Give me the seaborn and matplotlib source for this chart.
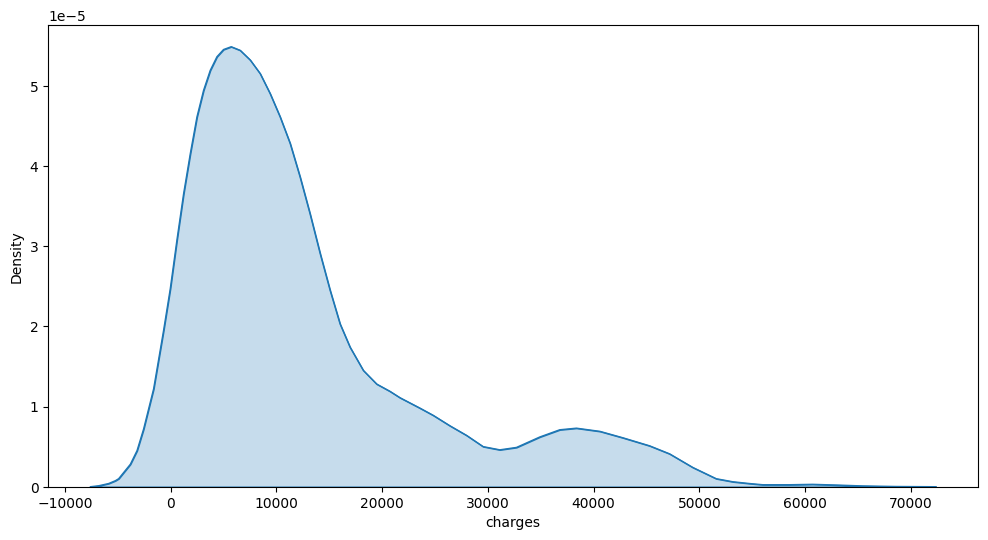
import matplotlib
matplotlib.use("Agg")
import matplotlib.pyplot as plt
import seaborn as sns
import pandas as pd

# KDE curve of insurance charges
charges = [-7580, -6799, -5855, -5222, -4910, -3806, -3173, -2550, -1605, -661,
           -28, 604, 1228, 1860, 2493, 3116, 3749, 4382, 5005, 5732,
           6582, 7526, 8470, 9415, 10359, 11303, 12247, 13191, 14136, 15080,
           16024, 16969, 18225, 19490, 20737, 21690, 23580, 24835, 26412, 27989,
           29557, 31134, 32711, 34911, 36800, 38377, 40608, 42777, 45297, 47186,
           49387, 50652, 51597, 53165, 54742, 55997, 58520, 60718, 63240, 65440,
           68594, 72370]
density_e5 = [0.0, 0.012, 0.04, 0.075, 0.10, 0.28, 0.45, 0.72, 1.22, 1.95,
              2.47, 3.08, 3.65, 4.15, 4.61, 4.94, 5.19, 5.36, 5.45, 5.485,
              5.44, 5.32, 5.15, 4.90, 4.61, 4.28, 3.86, 3.40, 2.91, 2.45,
              2.03, 1.74, 1.45, 1.28, 1.19, 1.11, 0.98, 0.89, 0.76, 0.64,
              0.50, 0.46, 0.49, 0.62, 0.71, 0.73, 0.69, 0.61, 0.51, 0.41,
              0.24, 0.16, 0.10, 0.062, 0.04, 0.025, 0.025, 0.03, 0.02, 0.01,
              0.003, 0.0]

df = pd.DataFrame({"charges": charges, "Density": [d * 1e-5 for d in density_e5]})

color = sns.color_palette()[0]
fig, ax = plt.subplots(figsize=(12, 6), dpi=100)
ax.fill_between(df["charges"], 0, df["Density"], facecolor=(*color, 0.25),
                edgecolor=color, linewidth=1.0)
sns.lineplot(data=df, x="charges", y="Density", ax=ax, color=color, linewidth=1.0)
ax.set_ylim(bottom=0)
ax.set_xlabel("charges")
ax.set_ylabel("Density")
fig.savefig("out.png", dpi=100, bbox_inches="tight")
